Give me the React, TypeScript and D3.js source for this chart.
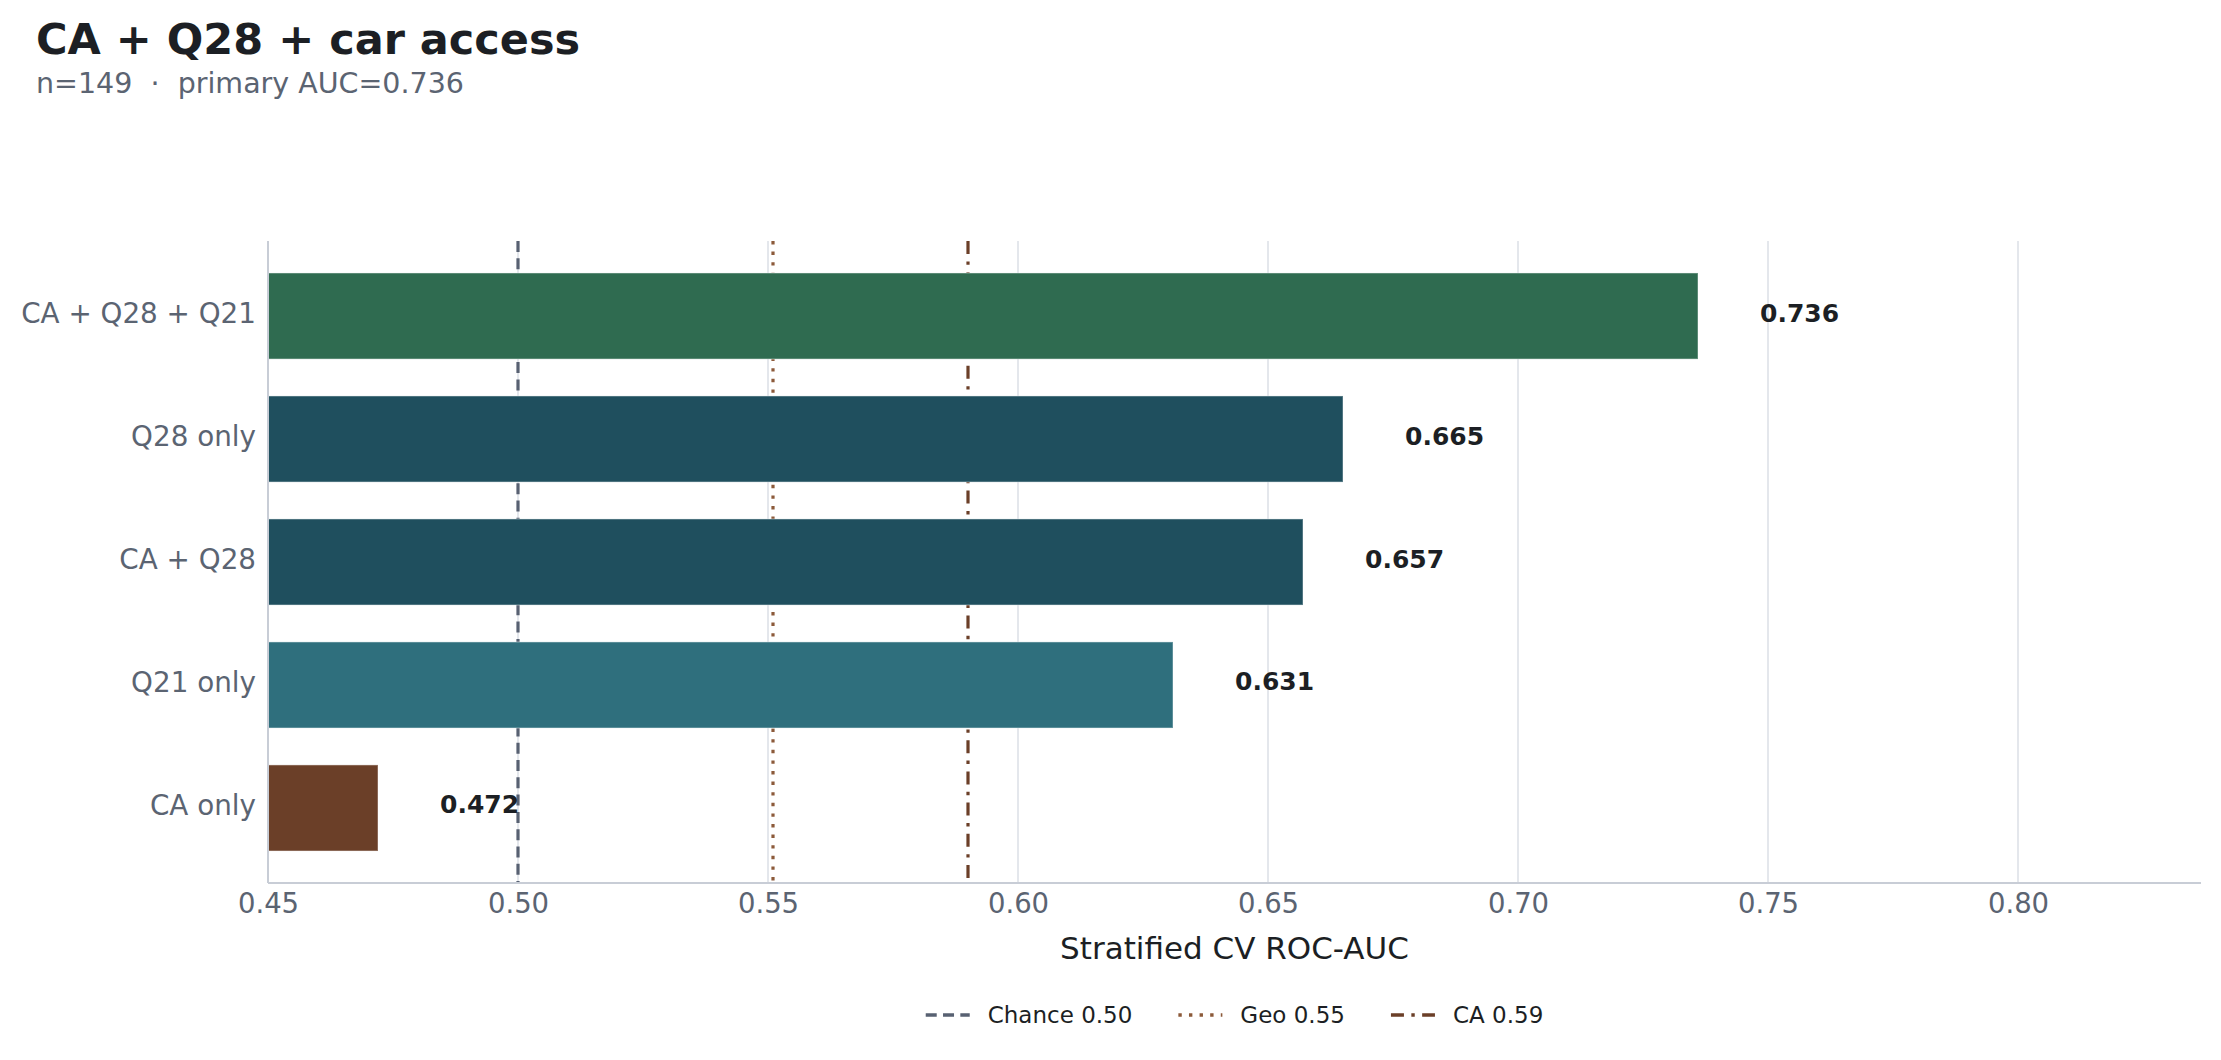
import React, { useEffect, useRef } from "react"
import * as d3 from "d3"

// ---------- Data ----------
const categories = ["CA + Q28 + Q21", "Q28 only", "CA + Q28", "Q21 only", "CA only"]
const aucValues = [0.736, 0.665, 0.657, 0.631, 0.472]
const barColors = ["#2f6b50", "#1f4f5e", "#1f4f5e", "#2f6f7d", "#6b3f28"]
const xTicks = [0.45, 0.5, 0.55, 0.6, 0.65, 0.7, 0.75, 0.8]

const refLabels = ["Chance 0.50", "Geo 0.55", "CA 0.59"]
const refValues = [0.5, 0.551, 0.59]
const refColors = ["#586172", "#8c5a3a", "#6b3f28"]
const refDashes = ["11,6.3", "3.4,7.2", "13,7.4,3.4,7.4"]

const TITLE = "CA + Q28 + car access"
const SUBTITLE = "n=149  \u00b7  primary AUC=0.736"
const X_LABEL = "Stratified CV ROC-AUC"

// ---------- Style ----------
const FONT = "'DejaVu Sans', sans-serif"
const DARK = "#1c1f24"
const MUTED = "#5b6472"

const WIDTH = 2221
const HEIGHT = 1060
const margin = { top: 241, right: 20, bottom: 177, left: 268 }

const App: React.FC = () => {
    const svgRef = useRef<SVGSVGElement>(null)

    useEffect(() => {
        if (!svgRef.current) return
        const svg = d3.select(svgRef.current)
        svg.selectAll("*").remove()

        const x0 = margin.left
        const x1 = WIDTH - margin.right
        const y0 = margin.top
        const y1 = HEIGHT - margin.bottom

        const xScale = d3.scaleLinear().domain([0.45, 0.8366]).range([x0, x1])
        const yScale = d3.scaleBand<string>()
            .domain(categories)
            .range([y0, y1])
            .paddingInner(0.3)
            .paddingOuter(0.26)

        // Title
        svg.append("text")
            .attr("x", 36).attr("y", 54)
            .attr("font-family", FONT).attr("font-size", 43).attr("font-weight", "bold")
            .attr("fill", DARK)
            .text(TITLE)

        svg.append("text")
            .attr("x", 36).attr("y", 93)
            .attr("font-family", FONT).attr("font-size", 28.5)
            .attr("fill", MUTED)
            .style("white-space", "pre")
            .text(SUBTITLE)

        // Grid
        svg.append("g")
            .selectAll("line")
            .data(xTicks.slice(1))
            .enter()
            .append("line")
            .attr("x1", d => xScale(d)).attr("x2", d => xScale(d))
            .attr("y1", y0).attr("y2", y1)
            .attr("stroke", "#e4e7ec").attr("stroke-width", 2)

        // Reference lines (behind bars)
        svg.append("g")
            .selectAll("line")
            .data(refValues)
            .enter()
            .append("line")
            .attr("x1", d => xScale(d)).attr("x2", d => xScale(d))
            .attr("y1", y0).attr("y2", y1)
            .attr("stroke", (_, i) => refColors[i])
            .attr("stroke-width", 3.2)
            .attr("stroke-dasharray", (_, i) => refDashes[i])

        // Bars
        svg.append("g")
            .selectAll("rect")
            .data(categories)
            .enter()
            .append("rect")
            .attr("x", xScale(0.45))
            .attr("y", d => yScale(d) ?? 0)
            .attr("width", (_, i) => xScale(aucValues[i]) - xScale(0.45))
            .attr("height", yScale.bandwidth())
            .attr("fill", (_, i) => barColors[i])
            .attr("stroke", "#ffffff").attr("stroke-opacity", 0.3).attr("stroke-width", 1.5)

        // Value labels
        svg.append("g")
            .selectAll("text")
            .data(categories)
            .enter()
            .append("text")
            .attr("x", (_, i) => xScale(aucValues[i] + 0.0124))
            .attr("y", d => (yScale(d) ?? 0) + yScale.bandwidth() / 2 - 3)
            .attr("dominant-baseline", "central")
            .attr("font-family", FONT).attr("font-size", 25).attr("font-weight", "bold")
            .attr("fill", DARK)
            .text((_, i) => aucValues[i].toFixed(3))

        // Spines
        svg.append("line")
            .attr("x1", x0).attr("x2", x0).attr("y1", y0).attr("y2", y1)
            .attr("stroke", "#c8cdd6").attr("stroke-width", 2)
        svg.append("line")
            .attr("x1", x0).attr("x2", x1).attr("y1", y1).attr("y2", y1)
            .attr("stroke", "#c8cdd6").attr("stroke-width", 2)

        // X axis ticks
        const xAxis = svg.append("g")
            .attr("transform", `translate(0,${y1})`)
            .call(d3.axisBottom(xScale).tickValues(xTicks).tickSize(0).tickPadding(10).tickFormat(d3.format(".2f")))
        xAxis.select(".domain").remove()
        xAxis.selectAll("text")
            .attr("font-family", FONT).attr("font-size", 27.5).attr("fill", MUTED)

        // Y axis labels
        const yAxis = svg.append("g")
            .attr("transform", `translate(${x0},-2)`)
            .call(d3.axisLeft(yScale).tickSize(0).tickPadding(12))
        yAxis.select(".domain").remove()
        yAxis.selectAll("text")
            .attr("font-family", FONT).attr("font-size", 27.8).attr("fill", MUTED)

        // X label
        svg.append("text")
            .attr("x", (x0 + x1) / 2).attr("y", 948)
            .attr("text-anchor", "middle").attr("dominant-baseline", "central")
            .attr("font-family", FONT).attr("font-size", 31).attr("fill", DARK)
            .text(X_LABEL)

        // Legend
        const legend = svg.append("g")
        const handleLen = 44, handlePad = 18, colGap = 46
        let cursor = 0
        refLabels.forEach((label, i) => {
            const item = legend.append("g").attr("transform", `translate(${cursor},0)`)
            item.append("line")
                .attr("x1", 0).attr("x2", handleLen).attr("y1", 0).attr("y2", 0)
                .attr("stroke", refColors[i]).attr("stroke-width", 3.4)
                .attr("stroke-dasharray", refDashes[i])
            const t = item.append("text")
                .attr("x", handleLen + handlePad).attr("y", 0)
                .attr("dominant-baseline", "central")
                .attr("font-family", FONT).attr("font-size", 23).attr("fill", DARK)
                .text(label)
            const w = (t.node() as SVGTextElement).getComputedTextLength()
            cursor += handleLen + handlePad + w + colGap
        })
        const totalW = cursor - colGap
        legend.attr("transform", `translate(${(x0 + x1) / 2 - totalW / 2},1015)`)
    }, [])

    return (
        <svg
            ref={svgRef}
            width={WIDTH}
            height={HEIGHT}
            style={{ position: "absolute", left: 0, top: 0, background: "#ffffff" }}
        />
    )
}

export default App
